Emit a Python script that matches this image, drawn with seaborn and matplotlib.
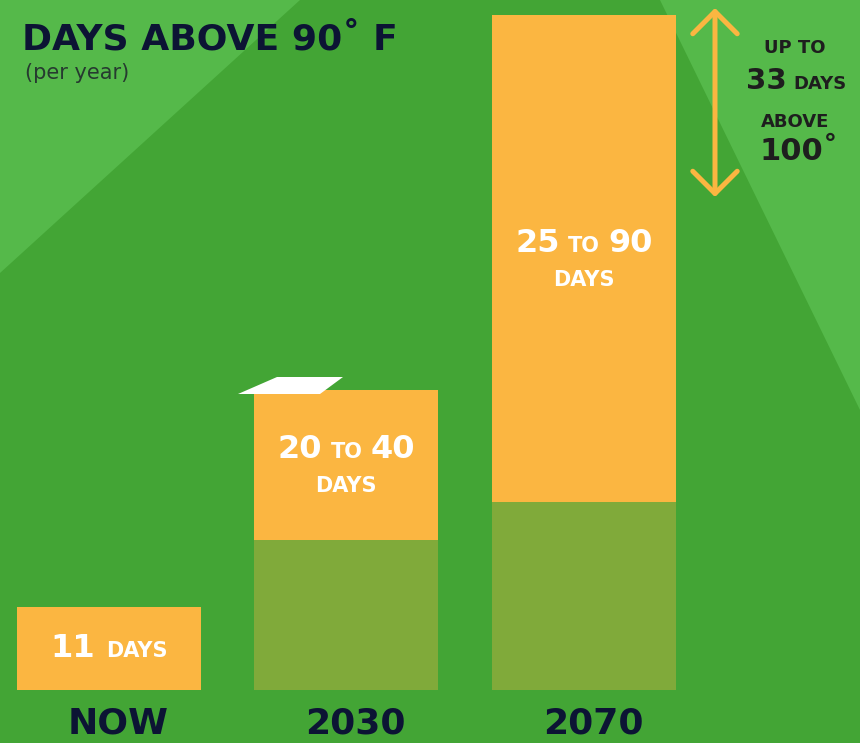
import matplotlib
matplotlib.use("Agg")
import matplotlib.pyplot as plt
import matplotlib.transforms as mtransforms
import pandas as pd
import seaborn as sns
from matplotlib.patches import Polygon
from matplotlib.offsetbox import TextArea, HPacker, VPacker, AnnotationBbox

# --- data -------------------------------------------------------------
periods = ["NOW", "2030", "2070"]
days_low = [11, 20, 25]      # lower end of projected days above 90°F
days_high = [11, 40, 90]     # upper end of projected days above 90°F
days_above_100 = 33          # projected days above 100°F by 2070

title = "DAYS ABOVE 90˚ F"
subtitle = "(per year)"

# --- style ------------------------------------------------------------
DARK_GREEN = "#43a535"
LIGHT_GREEN = "#55b94a"
ORANGE = "#fbb641"
OLIVE = "#80aa3a"
NAVY = "#0c1434"
INK = "#1e1e1e"

W, H = 860, 743


def fx(px):
    return px / W


def fy(py):
    return 1 - py / H


sns.set_theme(style="white")
plt.rcParams["font.family"] = ["DejaVu Sans"]

fig = plt.figure(figsize=(W / 100, H / 100), dpi=100, facecolor=DARK_GREEN)
ax = fig.add_axes([0, 0, 1, 1])

# light diagonal panels behind the bars
ax.add_patch(Polygon([(0, fy(273)), (0, 1), (fx(300), 1)], closed=True,
                     transform=ax.transAxes, facecolor=LIGHT_GREEN,
                     edgecolor="none", zorder=0))
ax.add_patch(Polygon([(fx(660), 1), (1, 1), (1, fy(410))], closed=True,
                     transform=ax.transAxes, facecolor=LIGHT_GREEN,
                     edgecolor="none", zorder=0))

# --- bars -------------------------------------------------------------
df = pd.DataFrame({
    "period": periods,
    "high": days_high,
    "base": [lo if lo < hi else 0 for lo, hi in zip(days_low, days_high)],
})

bar_w = 0.774
sns.barplot(data=df, x="period", y="high", color=ORANGE, saturation=1,
            width=bar_w, linewidth=0, errorbar=None, ax=ax, zorder=2)
sns.barplot(data=df, x="period", y="base", color=OLIVE, saturation=1,
            width=bar_w, linewidth=0, errorbar=None, ax=ax, zorder=3)

ax.set_xlim(-0.4568, 3.1605)
ax.set_ylim(-7.067, 92.0)
ax.axis("off")

# small white tab above the 2030 bar
ax.add_patch(Polygon([(fx(238), fy(394)), (fx(277), fy(377)),
                      (fx(343), fy(377)), (fx(320), fy(394))], closed=True,
                     transform=ax.transAxes, facecolor="white",
                     edgecolor="none", zorder=4))

# --- value labels inside bars ------------------------------------------
big = dict(color="white", fontsize=23, fontweight="bold")
small = dict(color="white", fontsize=15, fontweight="bold")

for i, (lo, hi) in enumerate(zip(days_low, days_high)):
    if lo == hi:
        box = HPacker(children=[TextArea(str(hi), textprops=big),
                                TextArea("DAYS", textprops=small)],
                      align="baseline", pad=0, sep=8)
        y = hi / 2
    else:
        line = HPacker(children=[TextArea(str(lo), textprops=big),
                                 TextArea("TO", textprops=small),
                                 TextArea(str(hi), textprops=big)],
                       align="baseline", pad=0, sep=6)
        box = VPacker(children=[line, TextArea("DAYS", textprops=small)],
                      align="center", pad=0, sep=8)
        y = (lo + hi) / 2
    ax.add_artist(AnnotationBbox(box, (i, y), xycoords="data", frameon=False,
                                 box_alignment=(0.5, 0.5), pad=0, zorder=5))

# --- category labels ---------------------------------------------------
blend = mtransforms.blended_transform_factory(ax.transData, ax.transAxes)
for i, name in enumerate(periods):
    ax.text(i + 0.04, fy(734), name, transform=blend, ha="center",
            va="baseline", fontsize=26, fontweight="bold", color=NAVY,
            zorder=5)

# --- title -------------------------------------------------------------
ax.text(fx(22), fy(49), title, transform=ax.transAxes, ha="left",
        va="baseline", fontsize=26, fontweight="bold", color=NAVY, zorder=5)
ax.text(fx(25), fy(79), subtitle, transform=ax.transAxes, ha="left",
        va="baseline", fontsize=15, color="#263a30", zorder=5)

# --- 100° callout --------------------------------------------------------
ax.annotate("", xy=(fx(715), fy(8)), xytext=(fx(715), fy(197)),
            xycoords="axes fraction", textcoords="axes fraction",
            arrowprops=dict(arrowstyle="<->, head_length=0.8, head_width=0.8",
                            color=ORANGE, lw=3.6, mutation_scale=20,
                            shrinkA=0, shrinkB=0, capstyle="round"),
            zorder=5)

ax.text(fx(795), fy(53), "UP TO", transform=ax.transAxes, ha="center",
        va="baseline", fontsize=13, fontweight="bold", color=INK, zorder=5)
line33 = HPacker(children=[TextArea(str(days_above_100),
                                    textprops=dict(color=INK, fontsize=21,
                                                   fontweight="bold")),
                           TextArea("DAYS", textprops=dict(color=INK,
                                                           fontsize=13,
                                                           fontweight="bold"))],
                 align="baseline", pad=0, sep=5)
ax.add_artist(AnnotationBbox(line33, (fx(796), fy(81)), xycoords="axes fraction",
                             frameon=False, box_alignment=(0.5, 0.5), pad=0,
                             zorder=5))
ax.text(fx(795), fy(127), "ABOVE", transform=ax.transAxes, ha="center",
        va="baseline", fontsize=13, fontweight="bold", color=INK, zorder=5)
ax.text(fx(799), fy(160), "100˚", transform=ax.transAxes, ha="center",
        va="baseline", fontsize=22, fontweight="bold", color=INK, zorder=5)

fig.savefig("out.png", dpi=100, facecolor=DARK_GREEN)
